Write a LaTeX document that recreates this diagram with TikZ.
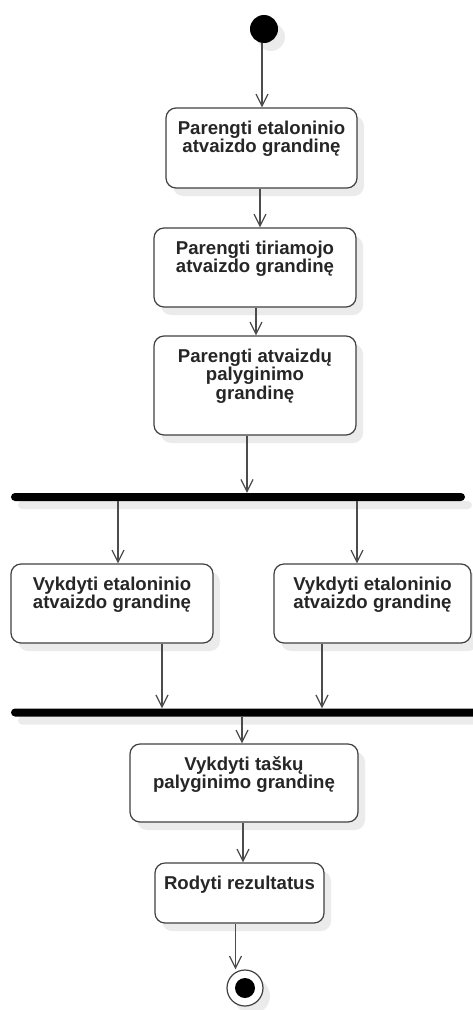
\documentclass[tikz,border=0pt]{standalone}
\usepackage{fontspec}
\setmainfont{Liberation Sans}
\usetikzlibrary{arrows.meta,shadows}

% action text: fixed-size box, text hung from the top
\newcommand\acttext[3]{\parbox[c][#1][t]{#2}{\centering\rule{0pt}{26pt}#3}}

\tikzset{
  softshadow/.style={drop shadow={shadow xshift=7pt,shadow yshift=-8pt,fill=black!8,opacity=1}},
  act/.style={draw=black!75, line width=1.2pt, rounded corners=10pt, fill=white,
    inner sep=0pt, softshadow, text=black!85,
    font=\bfseries\fontsize{18.6}{18.5}\selectfont},
  syncbar/.style={fill=black, rounded corners=4pt, minimum height=8pt, inner sep=0pt, softshadow},
  initdot/.style={circle, fill=black, minimum size=28pt, inner sep=0pt, softshadow},
  finring/.style={circle, draw=black!75, line width=1.2pt, fill=white, minimum size=36pt, inner sep=0pt, softshadow},
  findot/.style={circle, fill=black, minimum size=20pt, inner sep=0pt},
  flow/.style={draw=black!70, line width=1.2pt, -{Straight Barb[length=12pt,width=12pt]}},
}

\begin{document}
\begin{tikzpicture}[x=1pt,y=-1pt]
\useasboundingbox (0,0) rectangle (472,1010);

% nodes
\node[initdot] (start) at (264,29) {};
\node[act] (b1) at (261.5,148) {\acttext{80pt}{191pt}{Parengti etaloninio\\atvaizdo grandinę}};
\node[act] (b2) at (255,267.5) {\acttext{79pt}{202pt}{Parengti tiriamojo\\atvaizdo grandinę}};
\node[act] (b3) at (255,385.5) {\acttext{99pt}{202pt}{Parengti atvaizdų\\palyginimo\\grandinę}};
\node[syncbar, minimum width=454pt] (fork) at (238,497) {};
\node[act] (b4) at (112,603.5) {\acttext{79pt}{202pt}{Vykdyti etaloninio\\atvaizdo grandinę}};
\node[act] (b5) at (372.5,603.5) {\acttext{79pt}{197pt}{Vykdyti etaloninio\\atvaizdo grandinę}};
\node[syncbar, minimum width=469pt] (join) at (245.5,712.5) {};
\node[act] (b6) at (244,783) {\acttext{78pt}{228pt}{Vykdyti taškų\\palyginimo grandinę}};
\node[act] (b7) at (239.5,893) {\acttext{60pt}{169pt}{Rodyti rezultatus}};
\node[finring] (end) at (245,988) {};
\node[findot] (enddot) at (end.center) {};

% control flow
\draw[flow] ([xshift=-2pt]start.south) -- ([xshift=-2pt]start.south |- b1.north);
\draw[flow] ([xshift=-1.5pt]b1.south) -- ([xshift=-1.5pt]b1.south |- b2.north);
\draw[flow] ([xshift=1pt]b2.south) -- ([xshift=1pt]b2.south |- b3.north);
\draw[flow] ([xshift=-8pt]b3.south) -- ([xshift=-8pt]b3.south |- fork.north);
\draw[flow] ([xshift=6pt]b4.north |- fork.south) -- ([xshift=6pt]b4.north);
\draw[flow] ([xshift=-15.5pt]b5.north |- fork.south) -- ([xshift=-15.5pt]b5.north);
\draw[flow] ([xshift=50pt]b4.south) -- ([xshift=50pt]b4.south |- join.north);
\draw[flow] ([xshift=-50.5pt]b5.south) -- ([xshift=-50.5pt]b5.south |- join.north);
\draw[flow] ([xshift=-2pt]b6.north |- join.south) -- ([xshift=-2pt]b6.north);
\draw[flow] ([xshift=-1pt]b6.south) -- ([xshift=-1pt]b6.south |- b7.north);
\draw[flow] ([xshift=-4pt]b7.south) -- ([xshift=-4pt]b7.south |- end.north);
\end{tikzpicture}
\end{document}
